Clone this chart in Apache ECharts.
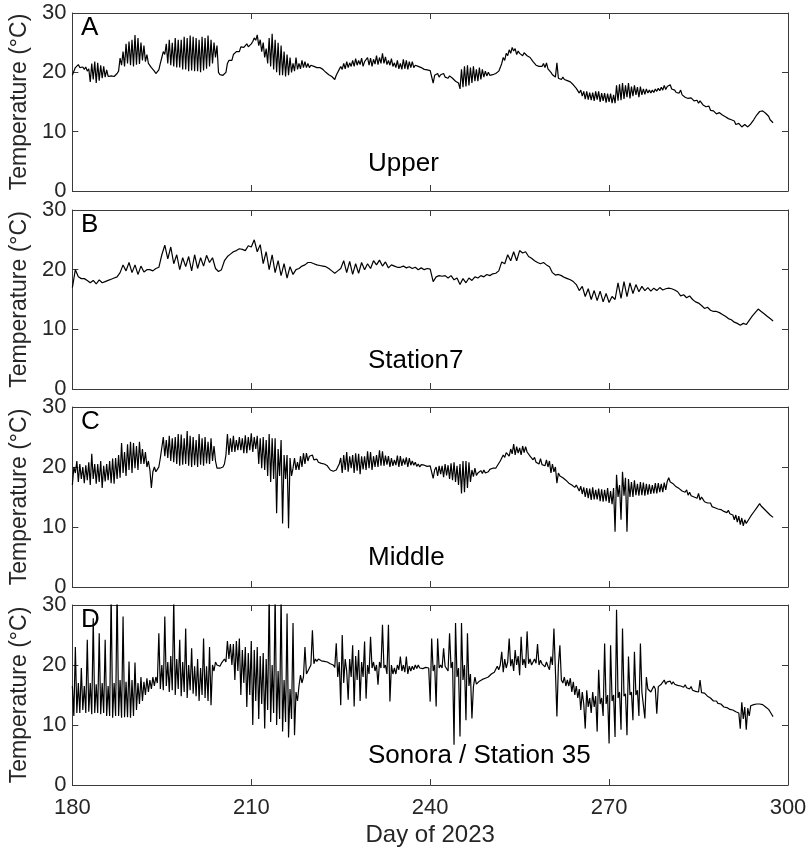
<!DOCTYPE html>
<html><head><meta charset="utf-8">
<script src="https://cdn.jsdelivr.net/npm/echarts@6/dist/echarts.min.js"></script>
<style>html,body{margin:0;padding:0;background:#fff}#chart{width:811px;height:849px}</style>
</head><body><div id="chart"></div>
<script>
// Sample days, quarter-day steps (panels A, C, D)
const daysQuarter = [
180,180.25,180.5,180.75,181,181.25,181.5,181.75,182,182.25,182.5,182.75,183,183.25,183.5,183.75,184,184.25,184.5,184.75,
185,185.25,185.5,185.75,186,186.25,186.5,186.75,187,187.25,187.5,187.75,188,188.25,188.5,188.75,189,189.25,189.5,189.75,
190,190.25,190.5,190.75,191,191.25,191.5,191.75,192,192.25,192.5,192.75,193,193.25,193.5,193.75,194,194.25,194.5,194.75,
195,195.25,195.5,195.75,196,196.25,196.5,196.75,197,197.25,197.5,197.75,198,198.25,198.5,198.75,199,199.25,199.5,199.75,
200,200.25,200.5,200.75,201,201.25,201.5,201.75,202,202.25,202.5,202.75,203,203.25,203.5,203.75,204,204.25,204.5,204.75,
205,205.25,205.5,205.75,206,206.25,206.5,206.75,207,207.25,207.5,207.75,208,208.25,208.5,208.75,209,209.25,209.5,209.75,
210,210.25,210.5,210.75,211,211.25,211.5,211.75,212,212.25,212.5,212.75,213,213.25,213.5,213.75,214,214.25,214.5,214.75,
215,215.25,215.5,215.75,216,216.25,216.5,216.75,217,217.25,217.5,217.75,218,218.25,218.5,218.75,219,219.25,219.5,219.75,
220,220.25,220.5,220.75,221,221.25,221.5,221.75,222,222.25,222.5,222.75,223,223.25,223.5,223.75,224,224.25,224.5,224.75,
225,225.25,225.5,225.75,226,226.25,226.5,226.75,227,227.25,227.5,227.75,228,228.25,228.5,228.75,229,229.25,229.5,229.75,
230,230.25,230.5,230.75,231,231.25,231.5,231.75,232,232.25,232.5,232.75,233,233.25,233.5,233.75,234,234.25,234.5,234.75,
235,235.25,235.5,235.75,236,236.25,236.5,236.75,237,237.25,237.5,237.75,238,238.25,238.5,238.75,239,239.25,239.5,239.75,
240,240.25,240.5,240.75,241,241.25,241.5,241.75,242,242.25,242.5,242.75,243,243.25,243.5,243.75,244,244.25,244.5,244.75,
245,245.25,245.5,245.75,246,246.25,246.5,246.75,247,247.25,247.5,247.75,248,248.25,248.5,248.75,249,249.25,249.5,249.75,
250,250.25,250.5,250.75,251,251.25,251.5,251.75,252,252.25,252.5,252.75,253,253.25,253.5,253.75,254,254.25,254.5,254.75,
255,255.25,255.5,255.75,256,256.25,256.5,256.75,257,257.25,257.5,257.75,258,258.25,258.5,258.75,259,259.25,259.5,259.75,
260,260.25,260.5,260.75,261,261.25,261.5,261.75,262,262.25,262.5,262.75,263,263.25,263.5,263.75,264,264.25,264.5,264.75,
265,265.25,265.5,265.75,266,266.25,266.5,266.75,267,267.25,267.5,267.75,268,268.25,268.5,268.75,269,269.25,269.5,269.75,
270,270.25,270.5,270.75,271,271.25,271.5,271.75,272,272.25,272.5,272.75,273,273.25,273.5,273.75,274,274.25,274.5,274.75,
275,275.25,275.5,275.75,276,276.25,276.5,276.75,277,277.25,277.5,277.75,278,278.25,278.5,278.75,279,279.25,279.5,279.75,
280,280.25,280.5,280.75,281,281.25,281.5,281.75,282,282.25,282.5,282.75,283,283.25,283.5,283.75,284,284.25,284.5,284.75,
285,285.25,285.5,285.75,286,286.25,286.5,286.75,287,287.25,287.5,287.75,288,288.25,288.5,288.75,289,289.25,289.5,289.75,
290,290.25,290.5,290.75,291,291.25,291.5,291.75,292,292.25,292.5,292.75,293,293.25,293.5,293.75,294,294.25,294.5,294.75,
295,295.25,295.5,295.75,296,296.25,296.5,296.75,297,297.25,297.5
];
// Sample days, half-day steps (panel B)
const daysHalf = [
180,180.5,181,181.5,182,182.5,183,183.5,184,184.5,185,185.5,186,186.5,187,187.5,188,188.5,189,189.5,
190,190.5,191,191.5,192,192.5,193,193.5,194,194.5,195,195.5,196,196.5,197,197.5,198,198.5,199,199.5,
200,200.5,201,201.5,202,202.5,203,203.5,204,204.5,205,205.5,206,206.5,207,207.5,208,208.5,209,209.5,
210,210.5,211,211.5,212,212.5,213,213.5,214,214.5,215,215.5,216,216.5,217,217.5,218,218.5,219,219.5,
220,220.5,221,221.5,222,222.5,223,223.5,224,224.5,225,225.5,226,226.5,227,227.5,228,228.5,229,229.5,
230,230.5,231,231.5,232,232.5,233,233.5,234,234.5,235,235.5,236,236.5,237,237.5,238,238.5,239,239.5,
240,240.5,241,241.5,242,242.5,243,243.5,244,244.5,245,245.5,246,246.5,247,247.5,248,248.5,249,249.5,
250,250.5,251,251.5,252,252.5,253,253.5,254,254.5,255,255.5,256,256.5,257,257.5,258,258.5,259,259.5,
260,260.5,261,261.5,262,262.5,263,263.5,264,264.5,265,265.5,266,266.5,267,267.5,268,268.5,269,269.5,
270,270.5,271,271.5,272,272.5,273,273.5,274,274.5,275,275.5,276,276.5,277,277.5,278,278.5,279,279.5,
280,280.5,281,281.5,282,282.5,283,283.5,284,284.5,285,285.5,286,286.5,287,287.5,288,288.5,289,289.5,
290,290.5,291,291.5,292,292.5,293,293.5,294,294.5,295,295.5,296,296.5,297,297.5
];
// A: Upper (quarter-day)
const upper = [
19.5,20.2,20.8,20.5, 21.3,20.8,20.6,20.9, 20.5,20.9,20.2,20.6, 18.4,21.5,18.8,21.8, 18.2,21.6,18.6,21.2,
19.0,21.0,19.2,20.4, 19.3,19.6,19.4,19.5, 19.3,19.6,19.8,20.2, 22.4,21.2,23.5,21.0, 24.8,21.5,25.2,21.2,
25.5,21.0,26.3,21.3, 25.8,21.4,25.0,22.0, 24.5,21.8,23.0,21.5, 21.2,20.8,20.5,20.2, 19.8,20.0,20.4,21.5,
22.5,23.5,23.0,24.8, 21.5,25.5,21.2,25.0, 21.0,25.8,20.8,25.5, 20.8,25.5,20.5,26.0, 20.5,25.8,20.2,26.2,
20.3,26.0,20.2,25.8, 20.2,25.5,20.0,26.0, 20.3,25.8,20.6,26.2, 21.0,25.5,21.5,25.0, 22.5,24.5,20.0,19.6,
19.5,19.5,19.6,20.0, 21.5,22.0,22.2,22.0, 23.0,22.8,23.5,23.8, 23.5,24.3,24.0,24.2, 24.5,24.8,24.3,24.6,
24.8,25.2,25.8,25.4, 26.3,24.5,25.5,23.5, 25.0,22.5,24.0,21.5, 25.8,21.0,26.5,20.5, 25.5,20.0,25.0,19.5,
24.5,19.5,23.5,19.3, 23.0,19.5,22.5,20.0, 21.5,20.2,22.5,20.5, 21.5,20.6,22.0,20.8, 21.8,20.8,21.5,20.8,
21.2,20.9,21.0,20.7, 20.8,20.6,20.8,20.5, 20.5,20.2,20.0,20.1, 19.6,19.4,19.3,19.2, 18.8,19.5,19.8,20.5,
21.0,20.5,21.5,20.6, 21.8,20.8,21.6,21.0, 22.0,21.0,22.3,21.2, 22.0,21.3,22.4,21.0, 21.8,21.5,22.5,21.2,
22.4,21.0,22.2,21.4, 22.8,21.3,22.5,21.5, 23.2,21.5,22.6,21.3, 22.0,21.2,22.3,21.0, 21.6,20.8,22.0,20.6,
21.5,20.5,22.2,20.6, 22.0,20.5,21.8,20.8, 21.8,20.8,21.2,20.9, 21.0,20.8,20.8,20.6, 20.5,20.4,20.4,20.3,
20.3,20.4,18.2,19.5, 19.3,19.8,19.2,19.6, 19.3,19.8,19.2,19.5, 19.0,19.4,19.2,19.0, 18.8,18.5,18.6,18.2,
17.2,20.5,17.5,21.0, 17.6,21.2,17.8,20.8, 18.2,21.0,18.5,20.5, 18.5,20.8,18.8,20.5, 19.2,20.2,19.4,20.0,
19.5,19.8,19.6,19.9, 19.8,20.0,20.2,20.8, 21.5,22.5,22.0,23.2, 22.8,23.8,23.2,24.2, 23.6,24.0,23.0,23.6,
23.2,23.5,22.8,23.3, 23.0,22.8,23.0,22.5, 22.3,21.8,21.5,21.2, 21.2,21.0,21.3,21.0, 21.5,20.8,21.6,20.6,
20.5,20.0,19.6,19.5, 19.2,21.6,19.0,19.2, 18.8,19.2,18.8,19.0, 18.6,18.5,18.4,18.3, 17.9,17.6,17.3,17.2,
16.5,17.0,16.0,16.8, 15.5,16.8,15.4,16.6, 15.3,16.6,15.2,16.8, 15.4,16.8,15.0,16.5, 15.2,16.5,14.9,16.4,
15.0,16.4,14.8,16.2, 14.8,17.8,15.2,18.0, 15.3,18.2,15.5,17.8, 15.8,18.2,15.6,17.6, 16.0,17.8,16.2,17.5,
15.8,17.6,16.2,17.2, 16.3,17.2,16.5,17.0, 16.5,17.0,16.6,17.2, 16.8,17.3,16.9,17.5, 17.0,17.8,17.1,17.6,
17.3,17.9,17.2,17.5, 17.0,16.6,16.8,16.5, 17.0,16.2,16.0,15.8, 15.8,15.6,15.5,15.7, 15.6,15.2,15.0,15.3,
14.8,15.2,15.0,14.5, 14.5,14.2,14.0,14.3, 13.6,13.8,13.5,13.7, 13.0,13.3,13.2,13.0, 12.8,12.6,12.5,12.6,
12.2,12.4,12.0,12.1, 11.8,11.2,11.0,11.4, 11.5,10.8,10.6,11.2, 11.2,10.8,10.7,11.3, 11.5,12.0,12.2,12.8,
13.0,13.4,13.7,13.5, 13.3,13.1,13.0,12.6, 12.0,11.8,11.5
];
// B: Station7 (half-day)
const station7 = [
17.0,20.0,18.8,18.5,18.5,18.2,17.8,18.2,17.6,18.3,17.8,18.0,18.2,18.4,18.6,18.8,19.5,20.8,19.8,21.2,
19.5,20.8,19.2,20.6,19.6,20.0,20.0,19.8,20.2,20.4,22.5,24.1,21.8,23.8,21.0,22.5,20.0,22.0,20.5,22.2,
19.8,22.5,20.2,22.0,20.6,22.4,21.2,22.0,20.2,19.7,20.0,21.5,22.2,22.6,23.0,23.2,23.5,23.4,23.2,24.0,
23.8,25.0,23.0,24.2,21.0,23.0,20.0,22.5,19.5,21.5,19.0,21.0,18.6,20.5,19.2,20.0,20.2,20.6,20.8,21.2,
21.2,21.0,20.8,20.7,20.6,20.5,20.2,19.8,19.4,19.8,20.2,21.5,19.5,21.4,19.2,21.0,19.4,21.2,20.0,21.0,
20.2,21.5,20.8,21.6,20.6,21.3,20.3,20.8,20.6,20.4,20.4,20.6,20.3,20.5,20.2,20.4,20.0,20.3,20.0,20.2,
20.1,18.0,18.8,19.0,18.9,19.0,18.6,19.0,18.3,18.6,17.5,18.5,17.8,18.6,18.2,18.8,18.6,19.0,18.8,19.2,
19.0,19.3,19.4,19.8,21.3,21.0,22.5,21.5,23.0,21.5,23.2,22.8,23.0,22.2,21.9,21.5,21.2,21.0,21.2,20.8,
20.5,19.5,19.1,19.2,19.0,18.7,18.5,18.3,18.0,17.5,16.5,17.2,15.5,16.8,15.0,16.5,14.8,16.4,14.6,16.0,
14.5,15.5,15.0,17.8,15.2,18.0,15.5,17.8,16.0,17.5,16.3,17.2,16.5,17.0,16.4,16.9,16.5,17.0,16.6,16.8,
16.9,16.8,16.6,16.3,15.6,15.8,15.3,15.6,15.0,14.6,14.4,14.0,13.5,13.7,13.2,13.0,13.0,12.8,12.5,12.2,
11.8,11.6,11.2,11.0,10.7,11.0,10.8,11.5,12.2,12.8,13.4,13.0,12.6,12.2,11.8,11.4
];
// C: Middle (quarter-day)
const middle = [
17.0,20.0,19.0,21.0, 17.5,20.5,18.0,20.0, 17.3,20.3,17.8,20.8, 17.0,22.2,18.0,20.5, 17.2,20.5,17.5,21.0,
16.5,20.2,17.6,20.5, 17.8,21.0,17.3,21.4, 17.2,21.5,18.0,22.0, 18.2,24.0,19.0,22.5, 18.5,23.8,19.5,24.2,
19.0,24.0,19.8,23.5, 19.5,24.2,20.5,23.0, 20.5,22.5,20.0,21.0, 19.5,16.5,19.2,20.0, 19.2,19.6,20.0,21.5,
21.5,25.0,21.8,24.5, 21.5,25.2,21.0,24.8, 20.8,25.0,20.5,25.5, 20.2,25.4,20.4,24.8, 20.5,26.0,20.2,25.2,
20.0,25.0,20.3,24.5, 20.0,25.5,20.4,24.8, 20.2,25.0,20.6,24.2, 20.5,24.8,21.0,23.5, 21.0,19.8,19.8,19.8,
19.8,20.0,20.5,22.0, 25.5,22.0,24.8,22.5, 25.2,22.5,24.5,22.8, 25.0,22.8,24.8,22.3, 25.3,22.3,25.0,22.8,
25.6,22.5,25.0,23.0, 25.2,20.5,24.8,19.8, 25.0,19.5,24.5,18.5, 25.5,17.5,24.8,18.0, 24.8,12.3,23.0,18.5,
24.5,10.6,22.0,18.0, 22.0,9.8,21.5,18.5, 19.8,21.5,19.5,20.8, 19.5,21.8,20.0,22.3, 20.5,22.3,21.0,21.8,
21.5,22.0,21.2,21.5, 21.3,20.8,21.0,20.6, 20.8,20.5,20.4,20.2, 20.0,19.5,19.6,19.3, 19.2,19.5,20.0,20.5,
21.5,19.0,22.0,19.5, 22.5,19.2,21.8,19.8, 22.0,19.0,22.3,19.4, 22.2,18.8,21.8,19.6, 21.8,19.5,22.6,19.8,
22.5,19.5,21.8,20.0, 22.0,20.0,22.8,20.2, 22.6,20.2,21.9,20.4, 21.8,20.0,21.5,20.2, 21.2,20.3,21.9,20.0,
21.8,20.2,21.4,20.4, 21.6,20.0,21.5,20.3, 21.0,20.3,20.8,20.1, 20.5,20.0,20.4,20.2, 20.3,20.0,20.1,20.0,
20.2,20.0,18.1,19.5, 20.0,18.5,20.2,18.8, 20.2,18.3,20.5,18.6, 20.3,18.0,20.6,17.8, 20.8,17.5,20.2,17.0,
20.5,15.6,21.0,15.8, 21.0,16.5,20.8,17.5, 19.5,18.4,19.8,18.6, 19.0,18.8,19.4,18.9, 19.5,19.0,19.3,19.2,
19.6,19.4,19.8,19.6, 19.8,20.2,20.5,21.0, 21.2,22.0,21.6,22.4, 22.5,21.8,23.0,22.2, 23.8,22.0,23.4,22.3,
23.2,22.0,23.5,22.4, 23.4,22.5,22.8,21.8, 21.5,21.2,21.6,20.8, 21.0,20.5,21.4,20.4, 20.6,20.2,21.2,20.0,
21.0,19.0,20.5,19.2, 20.0,17.3,19.0,18.5, 18.5,18.2,18.3,17.8, 17.8,17.3,17.6,17.0, 17.2,16.6,17.0,16.5,
16.0,16.8,15.5,16.6, 15.0,16.5,14.8,16.4, 14.5,16.6,14.6,16.2, 14.6,16.4,14.3,16.3, 14.2,16.2,14.3,16.5,
14.0,16.0,13.8,16.5, 9.2,18.7,15.0,17.0, 11.2,19.2,15.2,18.2, 9.2,18.0,15.0,17.5, 15.0,17.8,15.3,17.2,
15.2,17.5,15.3,17.4, 15.2,17.2,15.4,17.1, 15.5,17.0,15.6,17.3, 15.6,17.3,15.8,17.2, 15.8,17.4,16.2,17.6,
18.2,17.5,17.6,17.2, 17.0,16.7,16.8,16.4, 16.5,16.0,16.3,15.8, 16.2,15.3,15.8,15.2, 15.5,15.0,15.3,14.8,
15.6,14.5,15.0,14.6, 14.2,13.9,14.0,13.8, 14.0,13.4,13.6,13.2, 13.2,13.0,13.0,12.9, 13.2,12.6,12.8,12.4,
12.8,12.2,12.4,12.0, 11.2,12.0,10.8,11.8, 10.4,11.5,10.2,11.2, 10.6,11.0,11.2,11.8, 12.0,12.5,12.8,13.2,
13.2,13.9,13.5,13.3, 13.0,12.8,12.5,12.2, 12.0,11.8,11.6
];
// D: Sonora / Station 35 (quarter-day)
const sonora = [
16.5,11.5,23.0,12.0, 17.0,12.0,19.5,12.5, 16.5,12.0,24.2,12.2, 17.0,11.8,27.8,12.0, 16.8,12.0,25.3,11.8,
17.0,12.0,24.2,11.5, 16.5,11.5,32.0,11.2, 17.0,11.5,33.0,11.5, 17.5,11.2,28.1,11.3, 17.2,11.3,20.6,11.2,
17.5,11.5,20.4,12.5, 17.0,13.5,18.0,14.0, 17.2,15.0,17.8,15.5, 17.5,16.0,18.0,16.5, 18.0,17.0,25.3,16.0,
20.0,15.8,28.1,16.5, 20.5,15.5,21.5,15.8, 31.0,15.0,21.0,16.0, 24.2,14.8,20.5,15.5, 26.1,14.5,20.0,15.8,
22.8,15.2,19.8,14.8, 21.0,14.0,19.5,15.0, 24.4,14.5,19.8,14.0, 23.0,13.3,20.0,19.0, 20.5,20.0,20.3,19.8,
20.3,20.2,21.0,20.5, 24.0,21.0,23.5,20.0, 23.5,17.5,24.0,19.0, 24.4,15.0,22.5,17.0, 23.0,13.0,22.0,15.0,
24.0,10.0,22.5,14.0, 23.0,11.0,21.5,13.5, 22.0,9.4,21.0,12.5, 32.0,10.5,20.0,12.0, 32.0,10.0,19.0,11.0,
32.0,8.9,17.5,10.5, 28.6,7.9,16.0,11.0, 27.0,8.3,15.5,14.0, 16.5,18.3,17.0,18.0, 23.0,18.5,19.0,19.5,
20.0,25.8,20.2,21.0, 20.6,21.0,20.8,20.7, 20.8,20.6,20.7,20.5, 20.5,20.2,20.3,20.0, 19.6,23.6,18.0,20.5,
13.3,25.0,17.0,21.0, 19.0,14.2,21.0,18.0, 23.3,13.1,21.5,17.5, 22.5,14.0,20.5,18.0, 23.9,14.4,20.0,18.5,
24.7,19.5,20.5,19.0, 20.0,16.7,20.5,19.5, 26.7,19.5,20.0,18.5, 26.7,13.9,20.0,18.5, 19.5,18.5,20.0,19.2,
21.4,19.0,20.0,18.8, 21.4,18.5,19.8,19.0, 19.8,19.2,20.0,19.4, 20.0,19.5,19.8,19.4, 19.2,19.6,19.8,19.5,
13.9,24.4,19.0,20.0, 13.1,24.4,19.5,20.0, 19.5,22.8,19.8,20.0, 19.0,25.3,19.5,20.5, 6.7,27.0,18.0,19.5,
8.1,27.0,17.5,20.0, 10.8,25.3,16.5,18.5, 11.1,16.4,18.0,16.8, 17.0,17.3,17.2,17.6, 17.6,17.8,17.5,18.0,
18.0,18.5,18.2,18.8, 19.0,19.8,19.2,20.0, 22.2,18.8,21.0,19.5, 20.5,24.4,19.8,21.0, 19.0,22.5,20.0,21.5,
18.3,24.7,20.0,21.0, 19.5,25.6,20.2,21.0, 20.0,20.5,21.0,20.3, 23.5,20.0,20.8,20.2, 20.2,19.7,20.5,19.8,
19.2,21.4,20.0,26.1, 19.0,11.4,20.0,23.3, 17.5,17.0,18.0,16.5, 17.5,16.5,17.8,15.5, 17.2,15.0,16.5,14.5,
16.0,12.5,15.5,13.5, 9.4,15.8,13.0,14.5, 12.0,15.5,13.0,14.8, 8.9,19.2,13.5,14.5, 11.5,23.6,13.5,15.0,
6.9,23.3,14.0,15.0, 8.0,29.2,14.5,15.5, 9.2,26.1,14.8,15.2, 8.3,21.4,15.0,15.5, 10.8,22.2,15.0,15.8,
11.5,23.6,15.5,15.8, 11.1,18.0,16.0,16.2, 15.5,16.0,16.5,16.0, 11.9,16.4,16.5,16.8, 17.0,17.5,16.8,17.2,
17.0,17.3,16.8,17.2, 16.8,17.0,16.6,16.9, 16.5,16.6,16.3,16.7, 16.2,16.3,16.0,16.4, 15.8,15.8,15.6,15.9,
15.5,17.5,15.4,15.2, 15.3,15.0,14.8,14.6, 14.5,14.2,14.0,14.3, 14.0,13.6,13.4,13.5, 13.3,13.0,13.2,12.9,
12.8,12.6,12.7,12.5, 12.5,12.2,12.4,12.0, 9.4,13.8,11.0,13.0, 9.2,12.8,11.5,13.2, 13.2,13.4,13.3,13.5,
13.6,13.5,13.7,13.4, 13.4,13.0,13.1,12.6, 12.2,11.8,11.4
];
const panelLetters = ['A', 'B', 'C', 'D'];
const panelNames = ['Upper', 'Station7', 'Middle', 'Sonora / Station 35'];
const xTickValues = [180, 210, 240, 270, 300];
const yTickValues = [0, 10, 20, 30];
const xAxisTitle = 'Day of 2023';
const yAxisTitle = 'Temperature (°C)';

const seriesValues = [upper, station7, middle, sonora];
const seriesDays = [daysQuarter, daysHalf, daysQuarter, daysQuarter];
const FONT = '"Liberation Sans", Arial, Helvetica, sans-serif';
const AX = '#262626';
const FRAME = '#3a3a3a';
const tops = [13, 210, 407, 605];
const heights = [178, 179, 180, 180];
const gridLeft = 70, gridWidth = 718;

const grids = [], xAxes = [], yAxes = [], series = [], graphics = [];
for (let i = 0; i < 4; i++) {
  const last = i === 3;
  grids.push({ left: gridLeft, width: gridWidth, top: tops[i], height: heights[i] });
  const xBase = {
    type: 'value', gridIndex: i,
    min: xTickValues[0], max: xTickValues[xTickValues.length - 1],
    interval: xTickValues[1] - xTickValues[0],
    axisLine: { show: true, onZero: false, lineStyle: { color: FRAME, width: 1 } },
    axisTick: { show: true, inside: true, length: 6, lineStyle: { color: FRAME, width: 1 } },
    splitLine: { show: false }
  };
  xAxes.push(Object.assign({}, xBase, {
    position: 'bottom',
    axisLabel: { show: last, fontSize: 22, color: AX, fontFamily: FONT, margin: 12 },
    name: last ? xAxisTitle : '', nameLocation: 'middle', nameGap: 38,
    nameTextStyle: { fontSize: 24, color: AX, fontFamily: FONT }
  }));
  xAxes.push(Object.assign({}, xBase, { position: 'top', axisLabel: { show: false } }));
  const yBase = {
    type: 'value', gridIndex: i,
    min: yTickValues[0], max: yTickValues[yTickValues.length - 1],
    interval: yTickValues[1] - yTickValues[0],
    axisLine: { show: true, onZero: false, lineStyle: { color: FRAME, width: 1 } },
    axisTick: { show: true, inside: true, length: 6, lineStyle: { color: FRAME, width: 1 } },
    splitLine: { show: false }
  };
  yAxes.push(Object.assign({}, yBase, {
    position: 'left',
    axisLabel: { show: true, fontSize: 22, color: AX, fontFamily: FONT, margin: 6 },
    name: yAxisTitle, nameLocation: 'middle', nameGap: 31, nameRotate: 90,
    nameTextStyle: { fontSize: 23, color: AX, fontFamily: FONT }
  }));
  yAxes.push(Object.assign({}, yBase, { position: 'right', axisLabel: { show: false } }));
  series.push({
    type: 'line', xAxisIndex: 2 * i, yAxisIndex: 2 * i,
    data: seriesDays[i].map((d, k) => [d, seriesValues[i][k]]),
    showSymbol: false, symbol: 'none', clip: true,
    lineStyle: { color: '#000', width: 1.2 }
  });
  graphics.push({ type: 'text', left: 81, top: tops[i] + 2,
    style: { text: panelLetters[i], fontSize: 26, fill: '#000', fontFamily: FONT } });
  graphics.push({ type: 'text', left: 368, top: tops[i] + 138,
    style: { text: panelNames[i], fontSize: 26, fill: '#000', fontFamily: FONT } });
}

const chart = echarts.init(document.getElementById('chart'), null, { renderer: 'canvas' });
chart.setOption({
  backgroundColor: '#fff',
  animation: false,
  grid: grids, xAxis: xAxes, yAxis: yAxes, series: series, graphic: graphics
});
</script></body></html>
